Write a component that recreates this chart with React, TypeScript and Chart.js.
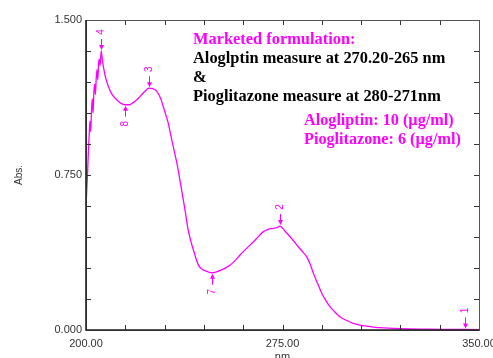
import { useEffect, useRef } from 'react';
import { Chart, registerables } from 'chart.js';

Chart.register(...registerables);

// ---- data ----
const wavelengths = [
  200.0, 200.3, 200.6, 200.9, 201.2, 201.5, 201.8, 202.1, 202.4, 202.7, 203.0, 203.3, 203.6, 203.9,
  204.2, 204.5, 204.8, 205.1, 205.4, 205.8, 206.2, 206.7, 207.5, 208.5, 209.5, 210.5, 212.0, 213.5,
  215.0, 216.5, 218.0, 219.5, 221.0, 222.5, 224.0, 225.5, 227.0, 228.5, 229.5, 230.5, 231.4, 232.4,
  233.3, 234.3, 235.2, 236.5, 237.8, 239.0, 240.0, 241.0, 242.0, 242.9, 244.0, 245.4, 246.8, 248.0,
  249.5, 251.1, 253.0, 255.0, 257.0, 258.8, 261.3, 263.9, 265.8, 267.7, 269.5, 271.5, 273.0, 274.0,
  276.0, 277.9, 279.5, 281.0, 282.6, 284.2, 285.5, 286.8, 288.4, 290.0, 291.5, 293.1, 295.0, 296.9,
  299.5, 302.0, 304.5, 307.1, 312.2, 320.0, 330.0, 340.0, 350.0,
];
const absorbance = [
  0.60, 0.68, 0.76, 0.86, 0.94, 1.01, 0.96, 1.06, 1.12, 1.05, 1.15, 1.19, 1.14, 1.22,
  1.26, 1.21, 1.29, 1.31, 1.28, 1.35, 1.31, 1.27, 1.22, 1.18, 1.15, 1.13, 1.11, 1.095,
  1.09, 1.09, 1.10, 1.115, 1.135, 1.155, 1.17, 1.168, 1.155, 1.12, 1.08, 1.04, 1.00, 0.94,
  0.887, 0.83, 0.774, 0.677, 0.58, 0.484, 0.43, 0.387, 0.345, 0.314, 0.297, 0.287, 0.280, 0.277,
  0.280, 0.287, 0.298, 0.314, 0.337, 0.363, 0.395, 0.427, 0.452, 0.476, 0.487, 0.492, 0.496, 0.503,
  0.478, 0.451, 0.427, 0.403, 0.38, 0.355, 0.32, 0.274, 0.225, 0.178, 0.143, 0.113, 0.087, 0.064,
  0.046, 0.032, 0.024, 0.019, 0.011, 0.006, 0.004, 0.003, 0.002,
];

const peakNm = [205.8, 224.0, 274.0, 344.7];
const peakAbs = [1.35, 1.17, 0.503, 0.003];
const peakNo = ['4', '3', '2', '1'];

const valleyNm = [214.8, 248.0];
const valleyAbs = [1.09, 0.277];
const valleyNo = ['8', '7'];

const xLabeled = [200, 275, 350];
const yLabeled = [0, 0.75, 1.5];

const headerLines = [
  { text: 'Marketed formulation:', color: '#ff00ff' },
  { text: 'Aloglptin measure at 270.20-265 nm', color: '#000000' },
  { text: '&', color: '#000000' },
  { text: 'Pioglitazone measure at 280-271nm', color: '#000000' },
];
const concLines = ['Alogliptin: 10 (\u00b5g/ml)', 'Pioglitazone: 6 (\u00b5g/ml)'];

const MAGENTA = '#ff00ff';
const SANS = '"Liberation Sans", Arial, sans-serif';
const SERIF = '"Liberation Serif", "Times New Roman", serif';

const framePlugin = {
  id: 'frameTicks',
  afterDraw(chart: any) {
    const { ctx, chartArea: a, scales } = chart;
    const x = scales.x, y = scales.y;
    ctx.save();
    ctx.strokeStyle = '#333';
    ctx.lineWidth = 1;
    ctx.beginPath();
    x.ticks.forEach((t: any) => {
      const px = Math.round(x.getPixelForValue(t.value)) + 0.5;
      ctx.moveTo(px, a.bottom); ctx.lineTo(px, a.bottom - 5);
      ctx.moveTo(px, a.top); ctx.lineTo(px, a.top + 5);
    });
    y.ticks.forEach((t: any) => {
      const py = Math.round(y.getPixelForValue(t.value)) + 0.5;
      ctx.moveTo(a.left, py); ctx.lineTo(a.left + 5, py);
      ctx.moveTo(a.right, py); ctx.lineTo(a.right - 5, py);
    });
    ctx.stroke();
    ctx.strokeStyle = '#555';
    ctx.strokeRect(Math.round(a.left) + 0.5, Math.round(a.top) + 0.5, Math.round(a.right - a.left), Math.round(a.bottom - a.top));
    ctx.strokeStyle = '#222';
    ctx.lineWidth = 1.6;
    ctx.beginPath();
    ctx.moveTo(a.left, a.top); ctx.lineTo(a.left, a.bottom); ctx.lineTo(a.right, a.bottom);
    ctx.stroke();
    ctx.restore();
  },
};

const markerPlugin = {
  id: 'peakMarkers',
  afterDatasetsDraw(chart: any) {
    const { ctx, scales } = chart;
    const x = scales.x, y = scales.y;
    ctx.save();
    ctx.strokeStyle = MAGENTA;
    ctx.fillStyle = MAGENTA;
    ctx.lineWidth = 1;
    ctx.font = `10px ${SANS}`;
    const draw = (nm: number, ab: number, label: string, dir: number) => {
      const px = Math.round(x.getPixelForValue(nm)) + 0.5;
      const py = y.getPixelForValue(ab);
      ctx.beginPath();
      ctx.moveTo(px, py + dir * 12);
      ctx.lineTo(px, py + dir * 2);
      ctx.stroke();
      ctx.beginPath();
      ctx.moveTo(px, py + dir * 1);
      ctx.lineTo(px - 2.5, py + dir * 6);
      ctx.lineTo(px + 2.5, py + dir * 6);
      ctx.closePath();
      ctx.fill();
      ctx.save();
      ctx.translate(px, py + dir * 19);
      ctx.rotate(-Math.PI / 2);
      ctx.textAlign = 'center';
      ctx.textBaseline = 'middle';
      ctx.fillText(label, 0, 0);
      ctx.restore();
    };
    peakNm.forEach((nm, i) => draw(nm, peakAbs[i], peakNo[i], -1));
    valleyNm.forEach((nm, i) => draw(nm, valleyAbs[i], valleyNo[i], 1));
    ctx.restore();
  },
};

const textPlugin = {
  id: 'noteText',
  afterDraw(chart: any) {
    const { ctx, chartArea: a } = chart;
    ctx.save();
    ctx.font = `bold 16.4px ${SERIF}`;
    ctx.textBaseline = 'middle';
    ctx.textAlign = 'left';
    headerLines.forEach((l, i) => {
      ctx.fillStyle = l.color;
      ctx.fillText(l.text, a.left + 107, a.top + 19.5 + i * 19);
    });
    ctx.font = `bold 16.2px ${SERIF}`;
    ctx.fillStyle = MAGENTA;
    concLines.forEach((t, i) => {
      ctx.fillText(t, a.left + 218, a.top + 101 + i * 18.5);
    });
    ctx.restore();
  },
};

export default function App() {
  const ref = useRef<HTMLCanvasElement>(null);
  useEffect(() => {
    if (!ref.current) return;
    const chart = new Chart(ref.current, {
      type: 'line',
      data: {
        datasets: [
          {
            data: wavelengths.map((w, i) => ({ x: w, y: absorbance[i] })),
            borderColor: MAGENTA,
            borderWidth: 1.3,
            pointRadius: 0,
            cubicInterpolationMode: 'monotone',
            fill: false,
          },
        ],
      },
      options: {
        animation: false,
        responsive: false,
        layout: { padding: { top: 20, right: 31, left: 0, bottom: 0 } },
        plugins: { legend: { display: false }, tooltip: { enabled: false } },
        scales: {
          x: {
            type: 'linear',
            min: 200,
            max: 350,
            grid: { display: false, drawTicks: false },
            border: { display: false },
            ticks: {
              stepSize: 15,
              autoSkip: false,
              maxRotation: 0,
              padding: 7,
              color: '#333',
              font: { family: SANS, size: 11 },
              callback: (v: any) => (xLabeled.some((l) => Math.abs(l - v) < 1e-6) ? Number(v).toFixed(2) : ''),
            },
            title: {
              display: true,
              text: 'nm',
              color: '#333',
              font: { family: SANS, size: 11 },
              padding: { top: 0, bottom: 8 },
            },
            afterFit: (s: any) => { s.height = 42; },
          },
          y: {
            type: 'linear',
            min: 0,
            max: 1.5,
            grid: { display: false, drawTicks: false },
            border: { display: false },
            ticks: {
              stepSize: 0.15,
              autoSkip: false,
              padding: 4,
              color: '#333',
              font: { family: SANS, size: 11 },
              callback: (v: any) => (yLabeled.some((l) => Math.abs(l - v) < 1e-6) ? Number(v).toFixed(3) : ''),
            },
            title: {
              display: true,
              text: 'Abs.',
              color: '#333',
              font: { family: SANS, size: 10 },
              padding: { top: 13, bottom: 0 },
            },
            afterFit: (s: any) => { s.width = 86; },
          },
        },
      },
      plugins: [markerPlugin, framePlugin, textPlugin],
    } as any);
    return () => chart.destroy();
  }, []);

  return (
    <div style={{ position: 'fixed', left: 0, top: 0, width: 493, height: 358, overflow: 'hidden', background: '#fff' }}>
      <canvas ref={ref} width={510} height={372} style={{ display: 'block' }} />
    </div>
  );
}
